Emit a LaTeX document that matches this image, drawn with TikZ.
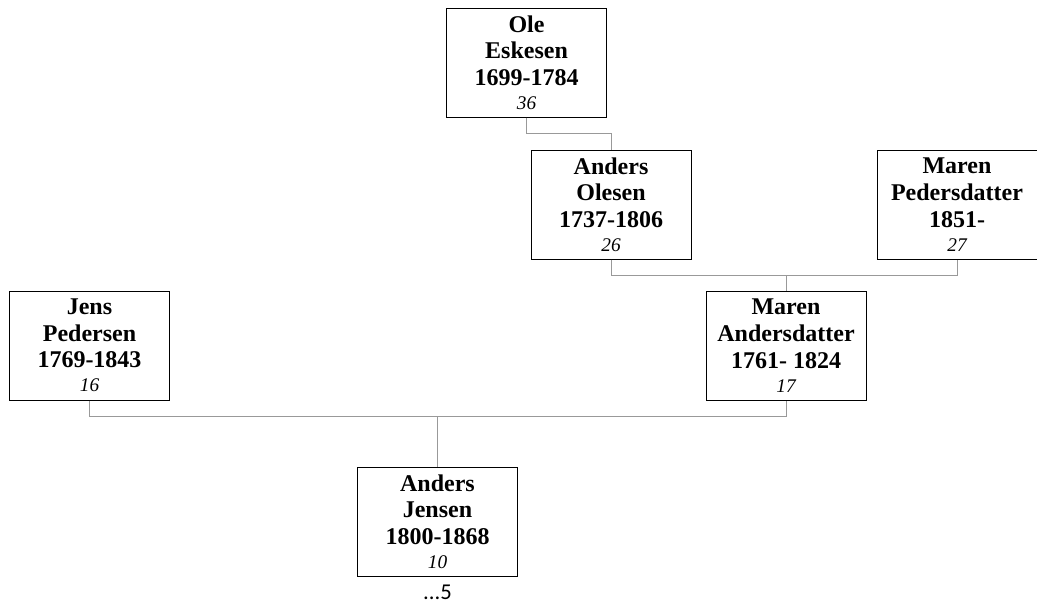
\documentclass[tikz,border=0pt]{standalone}
\usepackage{fontspec}
\setmainfont{Liberation Serif}
\newfontfamily\calibrifont{Carlito}

% generation number under each name
\newcommand{\pnum}[1]{\\[-2pt]{\fontsize{14.5}{16}\selectfont\mdseries\itshape #1}}

\begin{document}
\begin{tikzpicture}[x=0.75pt, y=-0.75pt,
    person/.style={draw=black, line width=0.75pt, minimum width=120pt,
      minimum height=81.75pt, inner sep=0pt, align=center,
      font=\fontsize{18}{20}\selectfont\bfseries},
    link/.style={draw=gray!80, line width=0.75pt},
    more/.style={inner sep=0pt, font=\calibrifont\fontsize{17}{18}\selectfont}]

    % Page size of the reference (pixels)
    \useasboundingbox (0,0) rectangle (1037,608);

    % Boxes (centres)
    \node[person] (ole)     at (526.5,62.5)  {Ole\\Eskesen\\1699-1784\pnum{36}};
    \node[person] (andersO) at (611,204.5)   {Anders\\Olesen\\1737-1806\pnum{26}};
    \node[person] (marenP)  at (957,204.5)   {Maren\\Pedersdatter\\1851-\pnum{27}};
    \node[person] (jens)    at (89.5,345.5)  {Jens\\Pedersen\\1769-1843\pnum{16}};
    \node[person] (marenA)  at (786,345.5)   {Maren\\Andersdatter\\1761- 1824\pnum{17}};
    \node[person] (andersJ) at (437.5,521.5) {Anders\\Jensen\\1800-1868\pnum{10}};

    % Text under the bottom box
    \node[more] (dots) at (437.5,592) {...5};

    % Connectors
    \draw[link] (ole.south) -- ++(0,16) -| (andersO.north); % father
    \draw[link] (andersO.south) -- ++(0,16) -| (marenP.south); % parents of Maren
    \draw[link] (marenA.north) -- ++(0,-16);
    \draw[link] (jens.south) -- ++(0,16) -| (marenA.south); % parents of Anders
    \draw[link] (andersJ.north) -- ++(0,-51);

\end{tikzpicture}
\end{document}
